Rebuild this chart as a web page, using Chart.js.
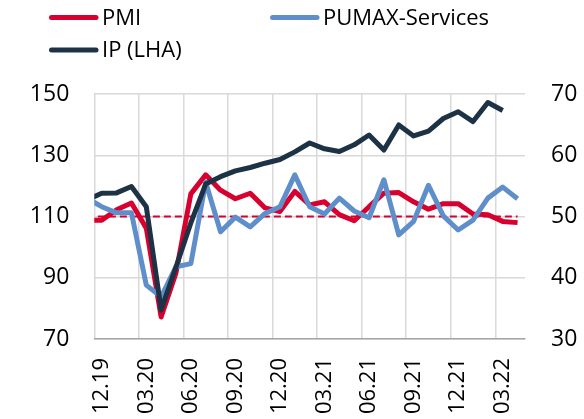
<!DOCTYPE html>
<html>
<head>
<meta charset="utf-8">
<script src="https://cdn.jsdelivr.net/npm/chart.js@4/dist/chart.umd.min.js"></script>
<style>
  html, body { margin: 0; padding: 0; background: #fff; }
  #wrap { width: 584px; height: 419px; }
</style>
</head>
<body>
<div id="wrap"><canvas id="chart" width="584" height="419"></canvas></div>
<script>
// months (first one only feeds the line that runs in from the left edge)
const months = ['11.19', '12.19', '01.20', '02.20', '03.20', '04.20', '05.20', '06.20', '07.20', '08.20',
  '09.20', '10.20', '11.20', '12.20', '01.21', '02.21', '03.21', '04.21', '05.21', '06.21',
  '07.21', '08.21', '09.21', '10.21', '11.21', '12.21', '01.22', '02.22', '03.22', '04.22'];

// right axis
const pmi = [49.4, 49.4, 51.1, 52.2, 48.1, 33.6, 40.8, 53.7, 56.8, 54.3,
  52.9, 53.8, 51.4, 50.8, 54.1, 51.9, 52.4, 50.3, 49.3, 51.6,
  53.8, 53.9, 52.4, 51.2, 52.1, 52.1, 50.4, 50.3, 49.2, 49.0];
const pumax = [53.0, 51.6, 50.6, 50.6, 38.8, 36.9, 41.8, 42.3, 55.6, 47.5,
  49.9, 48.3, 50.5, 51.6, 56.8, 51.6, 50.4, 53.0, 50.9, 49.8,
  56.0, 47.0, 49.2, 55.1, 50.1, 47.8, 49.4, 53.0, 54.8, 52.9];
const threshold = months.map(() => 50);

// left axis
const ip = [115.4, 117.6, 117.7, 119.8, 113.2, 79.5, 93.5, 107.9, 120.6, 123.0,
  124.9, 126.0, 127.4, 128.6, 131.1, 134.0, 132.1, 131.2, 133.4, 136.6,
  131.7, 139.9, 136.3, 137.9, 142.0, 144.2, 141.0, 147.2, 144.6, null];

const leftTicks = [70, 90, 110, 130, 150];
const rightTicks = [30, 40, 50, 60, 70];

const RED = '#d7002f';
const NAVY = '#1e3246';
const BLUE = '#5f8fca';

Chart.defaults.font.family = "'Open Sans', sans-serif";
Chart.defaults.color = '#000';

// legend in two columns, like the original
const columnLegend = {
  id: 'columnLegend',
  afterDraw(chart) {
    const ctx = chart.ctx;
    const spots = [
      {ds: 2, x: 49, y: 17.5},
      {ds: 1, x: 270, y: 17.5},
      {ds: 0, x: 49, y: 50}
    ];
    ctx.save();
    ctx.font = "22px 'Open Sans', sans-serif";
    ctx.textBaseline = 'middle';
    ctx.fillStyle = '#000';
    spots.forEach(s => {
      const d = chart.data.datasets[s.ds];
      ctx.strokeStyle = d.borderColor;
      ctx.lineWidth = 5;
      ctx.lineCap = 'round';
      ctx.beginPath();
      ctx.moveTo(s.x + 2.5, s.y);
      ctx.lineTo(s.x + 47, s.y);
      ctx.stroke();
      ctx.fillText(d.label, s.x + 53, s.y + 1);
    });
    ctx.restore();
  }
};

new Chart(document.getElementById('chart'), {
  type: 'line',
  data: {
    labels: months,
    datasets: [
      {label: 'IP (LHA)', data: ip, yAxisID: 'y', borderColor: NAVY, borderWidth: 5},
      {label: 'PUMAX-Services', data: pumax, yAxisID: 'y2', borderColor: BLUE, borderWidth: 5},
      {label: 'PMI', data: pmi, yAxisID: 'y2', borderColor: RED, borderWidth: 5},
      {label: '50', data: threshold, yAxisID: 'y2', borderColor: RED, borderWidth: 2, borderDash: [7, 4]}
    ]
  },
  options: {
    responsive: false,
    animation: false,
    events: [],
    layout: {padding: {top: 94, left: 30, right: 7, bottom: 4}},
    elements: {
      point: {radius: 0},
      line: {tension: 0, borderJoinStyle: 'round', fill: false}
    },
    plugins: {legend: {display: false}},
    scales: {
      x: {
        type: 'category',
        min: '12.19',
        offset: true,
        afterFit: s => { s.height = 76; },
        grid: {
          offset: true,
          drawTicks: false,
          lineWidth: 1.5,
          color: c => (c.index % 3 === 0 ? '#d9d9d9' : 'rgba(0,0,0,0)')
        },
        border: {display: true, color: '#a6a6a6', width: 1.5},
        ticks: {
          autoSkip: false,
          minRotation: 90,
          maxRotation: 90,
          padding: 19,
          font: {size: 22},
          callback: function (v, i) { return i % 3 === 0 ? this.getLabelForValue(v) : ''; }
        }
      },
      y: {
        position: 'left',
        min: leftTicks[0],
        max: leftTicks[leftTicks.length - 1],
        afterFit: s => { s.width = 64.3; },
        grid: {drawTicks: false, color: '#d9d9d9', lineWidth: 1.5},
        border: {display: false},
        ticks: {stepSize: leftTicks[1] - leftTicks[0], padding: 25, font: {size: 23}}
      },
      y2: {
        position: 'right',
        min: rightTicks[0],
        max: rightTicks[rightTicks.length - 1],
        afterFit: s => { s.width = 52; },
        grid: {display: false, drawTicks: false},
        border: {display: false},
        ticks: {stepSize: rightTicks[1] - rightTicks[0], padding: 26, font: {size: 23}}
      }
    }
  },
  plugins: [columnLegend]
});
</script>
</body>
</html>
